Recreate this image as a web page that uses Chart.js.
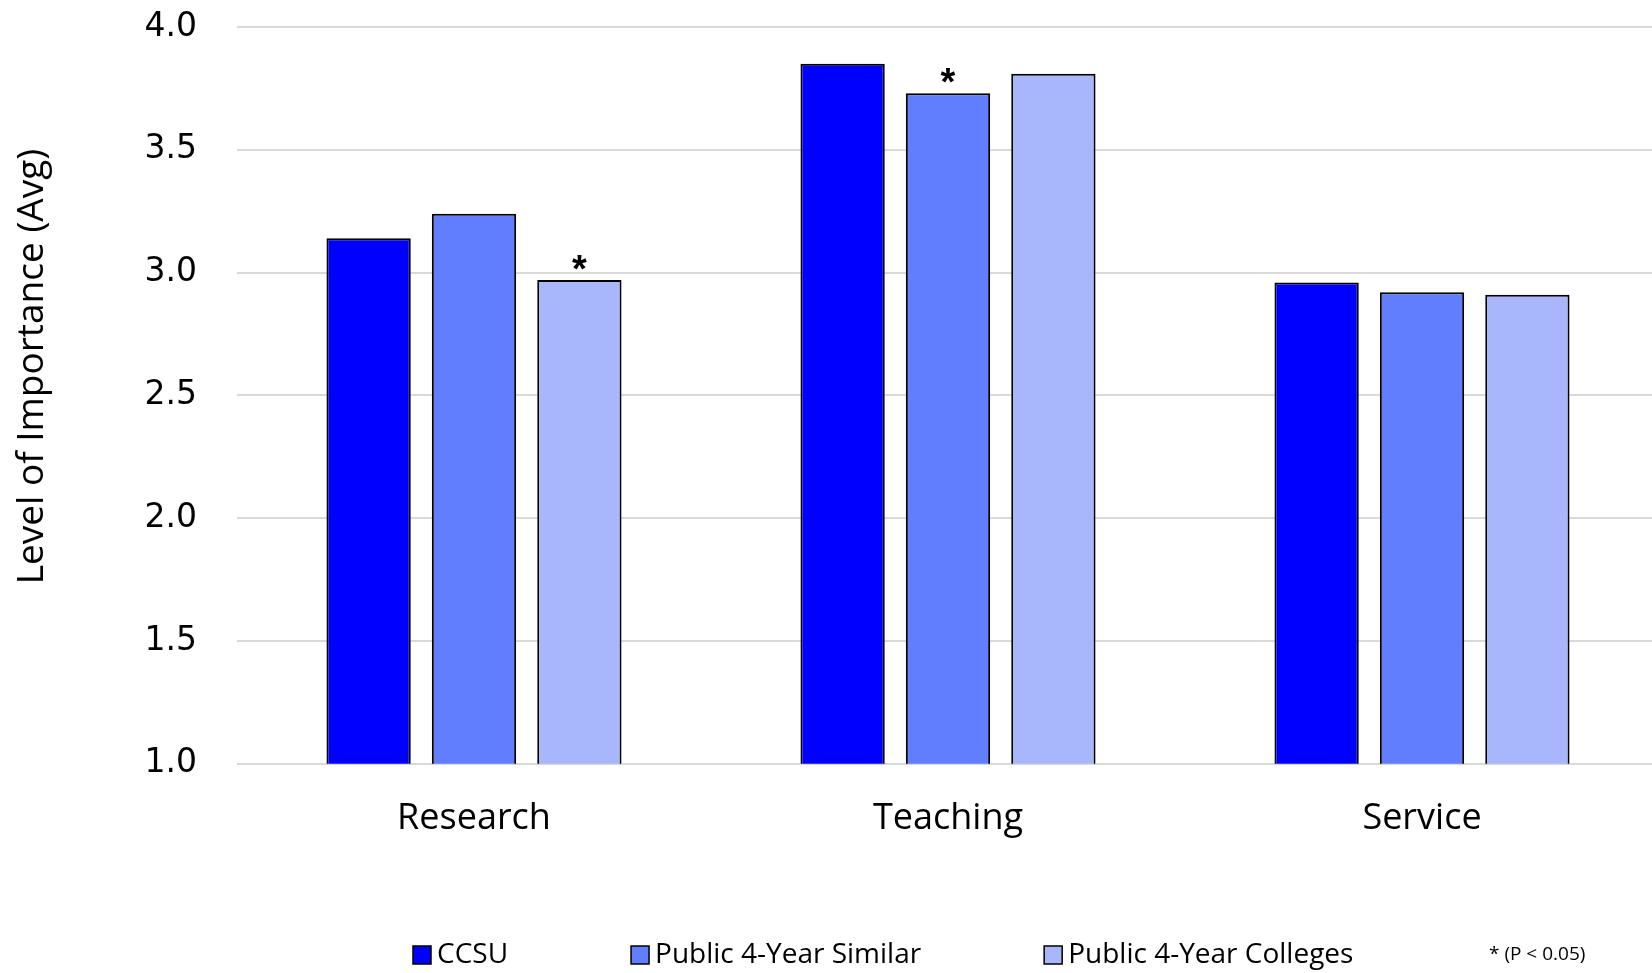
<!DOCTYPE html>
<html>
<head>
<meta charset="utf-8">
<title>Level of Importance</title>
<script src="https://cdn.jsdelivr.net/npm/chart.js@4/dist/chart.umd.min.js"></script>
<style>
  html, body { margin: 0; padding: 0; background: #ffffff; overflow: hidden; }
  canvas { display: block; }
</style>
</head>
<body>
<!-- el lienzo es algo mas ancho que la ventana: el area de graficos se corta a la derecha -->
<canvas id="importanceChart" width="1659" height="973"></canvas>
<script>
// categorias y promedios por grupo
const categories = ['Research', 'Teaching', 'Service'];
const seriesNames = ['CCSU', 'Public 4-Year Similar', 'Public 4-Year Colleges'];
const ccsu = [3.14, 3.85, 2.96];
const similar = [3.24, 3.73, 2.92];
const colleges = [2.97, 3.81, 2.91];
const seriesColors = ['#0000FF', '#617EFF', '#A8B6FB'];
// marcas de significancia: [serie, categoria]
const sigMarks = [[2, 0], [1, 1]];
const sigNote = '* (P < 0.05)';
const yMin = 1.0, yMax = 4.0, yStep = 0.5;

document.addEventListener("DOMContentLoaded", function () {
    var canvas = document.getElementById('importanceChart');
    if (!canvas) return;
    var ctx = canvas.getContext('2d');

    // asteriscos sobre las barras y leyenda dibujada a mano
    var extrasPlugin = {
        id: 'extras',
        afterDatasetsDraw: function (chart) {
            var c = chart.ctx;
            c.save();
            c.fillStyle = '#000000';
            c.textAlign = 'center';
            c.textBaseline = 'alphabetic';
            c.font = 'bold 38px "Liberation Sans"';
            sigMarks.forEach(function (m) {
                var bar = chart.getDatasetMeta(m[0]).data[m[1]];
                c.fillText('*', bar.x, bar.y + 2);
            });
            c.restore();
        },
        afterDraw: function (chart) {
            var c = chart.ctx;
            c.save();
            var y = 955, x = 413, box = 18;
            c.font = '28px "Open Sans"';
            c.textBaseline = 'middle';
            c.textAlign = 'left';
            chart.data.datasets.forEach(function (ds) {
                c.fillStyle = ds.backgroundColor;
                c.fillRect(x, y - box / 2, box, box);
                c.lineWidth = 1.5;
                c.strokeStyle = '#000000';
                c.strokeRect(x, y - box / 2, box, box);
                c.fillStyle = '#000000';
                c.fillText(ds.label, x + box + 6, y);
                x += box + 6 + c.measureText(ds.label).width + 123;
            });
            c.font = '19px "Open Sans"';
            c.fillText(sigNote, 1489, y);
            c.restore();
        }
    };

    var values = [ccsu, similar, colleges];
    var importanceChart = new Chart(ctx, {
        type: 'bar',
        data: {
            labels: categories,
            datasets: values.map(function (v, i) {
                return {
                    label: seriesNames[i],
                    data: v,
                    backgroundColor: seriesColors[i],
                    borderColor: '#000000',
                    borderWidth: 2,
                    categoryPercentage: 0.667,
                    barPercentage: 0.8
                };
            })
        },
        options: {
            responsive: false,
            animation: false,
            devicePixelRatio: 1,
            layout: {
                padding: { top: 27, left: 0, right: 0, bottom: 100 }
            },
            plugins: {
                legend: { display: false },
                tooltip: { enabled: false }
            },
            scales: {
                x: {
                    grid: { display: false, drawTicks: false },
                    border: { display: false },
                    ticks: {
                        color: '#000000',
                        padding: 33,
                        font: { family: '"Open Sans"', size: 36 }
                    }
                },
                y: {
                    min: yMin,
                    max: yMax,
                    afterFit: function (scale) {
                        scale.width = 237;
                        scale.paddingTop = 0;
                        scale.paddingBottom = 0;
                    },
                    grid: { color: '#d9d9d9', lineWidth: 2, drawTicks: false },
                    border: { display: false },
                    ticks: {
                        stepSize: yStep,
                        color: '#000000',
                        padding: 40,
                        font: { family: '"DejaVu Sans"', size: 33 },
                        callback: function (v) { return Number(v).toFixed(1); }
                    },
                    title: {
                        display: true,
                        // espacios iniciales para subir el titulo
                        text: '\u00a0\u00a0\u00a0\u00a0\u00a0\u00a0Level of Importance (Avg)',
                        color: '#000000',
                        padding: { top: 10, bottom: 0 },
                        font: { family: '"Open Sans"', size: 37 }
                    }
                }
            }
        },
        plugins: [extrasPlugin]
    });
});
</script>
</body>
</html>
